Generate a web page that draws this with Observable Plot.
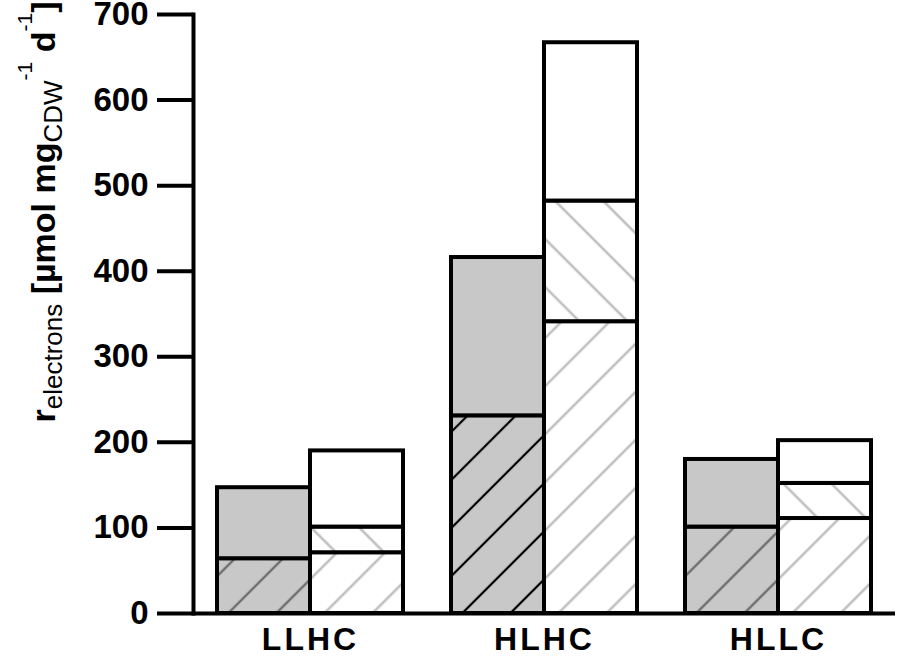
<!DOCTYPE html>
<html>
<head>
<meta charset="utf-8">
<script src="https://cdn.jsdelivr.net/npm/d3@7"></script>
<script src="https://cdn.jsdelivr.net/npm/@observablehq/plot@0.6"></script>
<style>
  html, body { margin: 0; padding: 0; background: #fff; }
  #chart svg { display: block; }
  .fxaxis text { letter-spacing: 3px; }
</style>
</head>
<body>
<div id="chart"></div>
<script>
// ---- data ----
const groups = ["LLHC", "HLHC", "HLLC"];
const leftBottom  = [64, 231, 101];   // hatched part of grey bar
const leftTotal   = [147, 416, 180];  // top of grey bar
const rightBottom = [71, 341, 111];   // "/" hatched part of white bar
const rightMiddle = [101, 482, 152];  // top of "\" hatched part
const rightTotal  = [190, 667, 202];  // top of white bar
const yTicks = [0, 100, 200, 300, 400, 500, 600, 700];

// build segment table
const segments = groups.flatMap((g, i) => [
  {group: g, bar: "A", y1: 0,              y2: leftBottom[i],  kind: "greyHatch"},
  {group: g, bar: "A", y1: leftBottom[i],  y2: leftTotal[i],   kind: "grey"},
  {group: g, bar: "B", y1: 0,              y2: rightBottom[i], kind: "hatchUp"},
  {group: g, bar: "B", y1: rightBottom[i], y2: rightMiddle[i], kind: "hatchDown"},
  {group: g, bar: "B", y1: rightMiddle[i], y2: rightTotal[i],  kind: "white"}
]);

const fillFor = d => {
  switch (d.kind) {
    case "greyHatch": return d.group === "HLHC" ? "url(#hatchGreyBlack)" : "url(#hatchGreyDark)";
    case "grey": return "#c8c8c8";
    case "hatchUp": return "url(#hatchUpLight)";
    case "hatchDown": return "url(#hatchDownLight)";
    default: return "#ffffff";
  }
};

const FONT = "'Liberation Sans', Arial, Helvetica, sans-serif";

const plot = Plot.plot({
  width: 898,
  height: 656,
  marginLeft: 193,
  marginRight: 3,
  marginTop: 14,
  marginBottom: 43,
  style: {fontFamily: FONT, color: "#000", background: "#fff", overflow: "visible"},
  fx: {domain: groups, padding: 0, label: null},
  x: {domain: ["A", "B"], paddingInner: 0, paddingOuter: 0.258, axis: null},
  y: {domain: [0, 700], label: null},
  marks: [
    Plot.barY(segments, {
      fx: "group", x: "bar", y1: "y1", y2: "y2",
      fill: fillFor, stroke: "#000", strokeWidth: 4, strokeLinejoin: "miter"
    }),
    Plot.ruleY([0], {stroke: "#000", strokeWidth: 4}),
    Plot.frame({anchor: "left", facetAnchor: "left", stroke: "#000", strokeWidth: 4}),
    Plot.axisY(yTicks, {
      anchor: "left", tickSize: 36, tickPadding: 9, strokeWidth: 4,
      fontSize: 33, fontWeight: "bold", label: null
    }),
    Plot.axisFx({
      anchor: "bottom", tickSize: 0, tickPadding: 14,
      fontSize: 32, fontWeight: "bold", label: null, className: "fxaxis"
    })
  ]
});

// hatch patterns
const svg = d3.select(plot);
const defs = svg.insert("defs", ":first-child");
function hatch(id, angle, bg, color, w) {
  const s = 34;
  const p = defs.append("pattern")
    .attr("id", id)
    .attr("patternUnits", "userSpaceOnUse")
    .attr("width", s).attr("height", s)
    .attr("patternTransform", `rotate(${angle})`);
  p.append("rect").attr("width", s).attr("height", s).attr("fill", bg);
  p.append("line")
    .attr("x1", s / 2).attr("y1", -1).attr("x2", s / 2).attr("y2", s + 1)
    .attr("stroke", color).attr("stroke-width", w);
}
hatch("hatchGreyBlack", 45, "#c8c8c8", "#000000", 2.2);
hatch("hatchGreyDark", 45, "#c8c8c8", "#6e6e6e", 2.4);
hatch("hatchUpLight", 45, "#ffffff", "#c0c0c0", 2.6);
hatch("hatchDownLight", -45, "#ffffff", "#c0c0c0", 2.6);

// y-axis title with sub/superscripts
const t = svg.append("text")
  .attr("transform", "translate(55,212) rotate(-90)")
  .attr("text-anchor", "middle")
  .attr("fill", "#000")
  .style("font-family", FONT)
  .style("font-size", "34px")
  .style("font-weight", "bold");
const big = (txt, dy) => t.append("tspan").attr("dy", dy).text(txt);
const small = (txt, dy, size) => t.append("tspan").attr("dy", dy)
  .style("font-size", size + "px").style("font-weight", "normal").text(txt);
big("r", 0);
small("electrons", 7, 26);
big(" [µmol mg", -7);
small("CDW", 7, 26);
small("-1", -30, 21);
big(" d", 23);
small("-1", -23, 21);
big("]", 23);

document.getElementById("chart").appendChild(plot);
</script>
</body>
</html>
